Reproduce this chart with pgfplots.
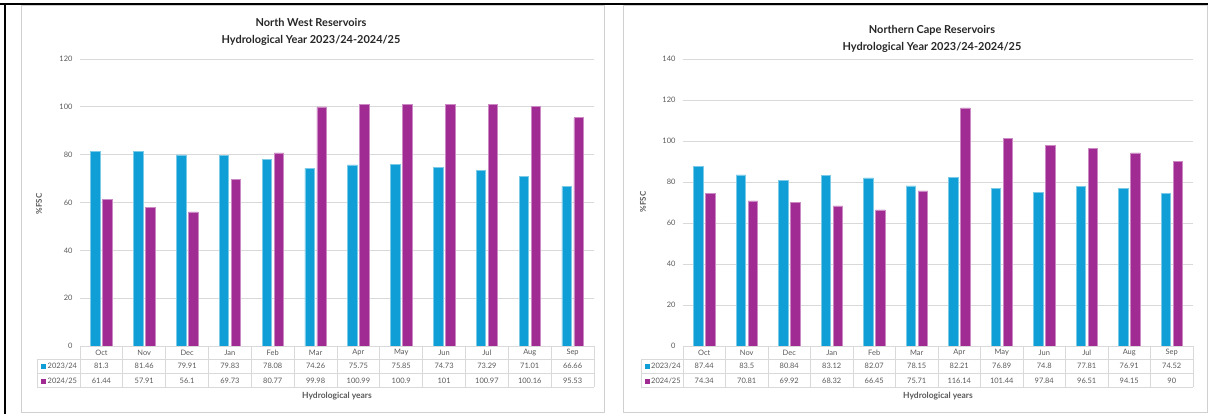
\documentclass[border=0pt]{standalone}
\usepackage{fontspec}
\setmainfont{Lato}
\usepackage{pgfplots}
\usepackage{pgfplotstable}
\pgfplotsset{compat=1.18}

\definecolor{s23}{HTML}{0F9ED5}
\definecolor{s24}{HTML}{A02B93}
\definecolor{gridc}{HTML}{D9D9D9}
\definecolor{txt}{HTML}{595959}
\definecolor{panel}{HTML}{D0D0D0}

% North West reservoirs, %FSC per month
\pgfplotstableread{
idx mon a b
0 Oct 81.3 61.44
1 Nov 81.46 57.91
2 Dec 79.91 56.1
3 Jan 79.83 69.73
4 Feb 78.08 80.77
5 Mar 74.26 99.98
6 Apr 75.75 100.99
7 May 75.85 100.9
8 Jun 74.73 101
9 Jul 73.29 100.97
10 Aug 71.01 100.16
11 Sep 66.66 95.53
}\nwdata

% Northern Cape reservoirs, %FSC per month
\pgfplotstableread{
idx mon a b
0 Oct 87.44 74.34
1 Nov 83.5 70.81
2 Dec 80.84 69.92
3 Jan 83.12 68.32
4 Feb 82.07 66.45
5 Mar 78.15 75.71
6 Apr 82.21 116.14
7 May 76.89 101.44
8 Jun 74.8 97.84
9 Jul 77.81 96.51
10 Aug 76.91 94.15
11 Sep 74.52 90
}\ncdata

\pgfplotsset{
  resbar/.style={
    scale only axis, height=287bp, anchor=south west,
    xmin=-0.5, xmax=11.5, ymin=0,
    axis line style={draw=none}, major tick length=0pt,
    ymajorgrids, grid style={gridc, line width=0.8bp},
    xtick={0,...,11},
    /pgf/number format/assume math mode=true,
    tick label style={font=\fontsize{7.5}{9}\selectfont, text=txt},
    yticklabel style={xshift=-4bp},
    xticklabel style={anchor=center, yshift=-6.8bp},
    clip=false,
  },
  bar23/.style={ybar, bar width=9.5bp, bar shift=-6bp, fill=s23, draw=s23!55!white, line width=0.5bp},
  bar24/.style={ybar, bar width=9.5bp, bar shift=6bp, fill=s24, draw=s24!55!white, line width=0.5bp},
  rowtext/.style={draw=none, nodes near coords, point meta=explicit symbolic,
    every node near coord/.style={anchor=center, font=\fontsize{7.5}{9}\selectfont, text=txt}},
}

\begin{document}
\begin{tikzpicture}[x=1bp, y=1bp]
\useasboundingbox (0,0) rectangle (1208,414);
\coordinate (nwo) at (80,68);
\coordinate (nco) at (683,68);

% outer frame and panels
\draw[panel, line width=1bp] (21,1.5) rectangle (604,408.5);
\draw[panel, line width=1bp] (623,1.5) rectangle (1207.5,408.5);
\draw[black, line width=2bp] (0,409.5) -- (1208,409.5);
\draw[black, line width=2bp] (5,0) -- (5,410.5);

% ---------------- North West ----------------
\begin{axis}[resbar, at={(nwo)}, width=514bp, ymax=120, ytick={0,20,...,120},
    xticklabels from table={\nwdata}{mon}]
  \addplot[bar23] table[x=idx, y=a] {\nwdata};
  \addplot[bar24] table[x=idx, y=b] {\nwdata};
  \addplot[rowtext] table[x=idx, y expr=-8.36, meta=a] {\nwdata};
  \addplot[rowtext] table[x=idx, y expr=-14.63, meta=b] {\nwdata};
\end{axis}

% data table grid
\foreach \k in {0,...,12} {
  \draw[gridc, line width=0.8bp] ({80+\k*514/12},68) -- ({80+\k*514/12},26.7);
}
\draw[gridc, line width=0.8bp] (80,68) -- (594,68);
\draw[gridc, line width=0.8bp] (37,54.7) -- (594,54.7);
\draw[gridc, line width=0.8bp] (37,40.7) -- (594,40.7);
\draw[gridc, line width=0.8bp] (37,26.7) -- (594,26.7);
\draw[gridc, line width=0.8bp] (37,54.7) -- (37,26.7);
\fill[s23] (41,45.5) rectangle (46,50.5);
\fill[s24] (41,30.5) rectangle (46,35.5);
\node[anchor=west, inner sep=0pt, font=\fontsize{7.5}{9}\selectfont, text=txt] at (47.5,48) {2023/24};
\node[anchor=west, inner sep=0pt, font=\fontsize{7.5}{9}\selectfont, text=txt] at (47.5,33) {2024/25};

% titles and axis labels
\node[align=center, font=\fontsize{11}{17}\selectfont\bfseries, text=black!85] at (311,382.5) {North West Reservoirs\\Hydrological Year 2023/24-2024/25};
\node[rotate=90, font=\fontsize{8}{9}\selectfont\bfseries, text=txt] at (39,210) {\%FSC};
\node[font=\fontsize{8.5}{10}\selectfont\bfseries, text=txt] at (337,17.5) {Hydrological years};

% ---------------- Northern Cape ----------------
\begin{axis}[resbar, at={(nco)}, width=510bp, ymax=140, ytick={0,20,...,140},
    xticklabels from table={\ncdata}{mon}]
  \addplot[bar23] table[x=idx, y=a] {\ncdata};
  \addplot[bar24] table[x=idx, y=b] {\ncdata};
  \addplot[rowtext] table[x=idx, y expr=-9.76, meta=a] {\ncdata};
  \addplot[rowtext] table[x=idx, y expr=-17.07, meta=b] {\ncdata};
\end{axis}

\foreach \k in {0,...,12} {
  \draw[gridc, line width=0.8bp] ({683+\k*510/12},68) -- ({683+\k*510/12},26.7);
}
\draw[gridc, line width=0.8bp] (683,68) -- (1193,68);
\draw[gridc, line width=0.8bp] (641,54.7) -- (1193,54.7);
\draw[gridc, line width=0.8bp] (641,40.7) -- (1193,40.7);
\draw[gridc, line width=0.8bp] (641,26.7) -- (1193,26.7);
\draw[gridc, line width=0.8bp] (641,54.7) -- (641,26.7);
\fill[s23] (644.5,45.5) rectangle (649.5,50.5);
\fill[s24] (644.5,30.5) rectangle (649.5,35.5);
\node[anchor=west, inner sep=0pt, font=\fontsize{7.5}{9}\selectfont, text=txt] at (651,48) {2023/24};
\node[anchor=west, inner sep=0pt, font=\fontsize{7.5}{9}\selectfont, text=txt] at (651,33) {2024/25};

\node[align=center, font=\fontsize{11}{17}\selectfont\bfseries, text=black!85] at (932,375) {Northern Cape Reservoirs\\Hydrological Year 2023/24-2024/25};
\node[rotate=90, font=\fontsize{8}{9}\selectfont\bfseries, text=txt] at (643,212) {\%FSC};
\node[font=\fontsize{8.5}{10}\selectfont\bfseries, text=txt] at (938,17.5) {Hydrological years};
\end{tikzpicture}
\end{document}
